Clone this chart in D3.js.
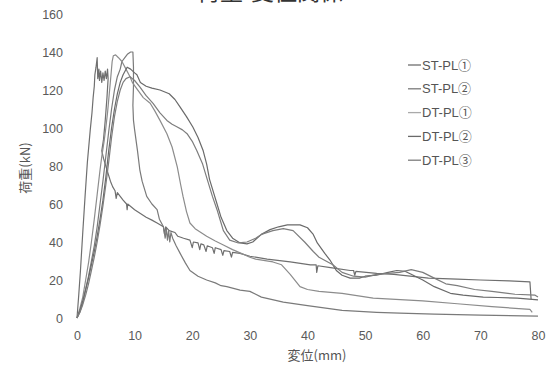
<!DOCTYPE html>
<html>
<head>
<meta charset="utf-8">
<script src="https://cdn.jsdelivr.net/npm/d3@7"></script>
<style>
  body { margin: 0; background: #fff; }
  svg { display: block; font-family: "Liberation Sans", "Noto Sans CJK JP", sans-serif; }
</style>
</head>
<body>
<svg id="chart" width="557" height="365"></svg>
<script>
// series names (legend order)
const seriesNames = ['ST-PL①', 'ST-PL②', 'DT-PL①', 'DT-PL②', 'DT-PL③'];
const xTicks = [0, 10, 20, 30, 40, 50, 60, 70, 80];
const yTicks = [0, 20, 40, 60, 80, 100, 120, 140, 160];

// [displacement mm, load kN]
const stPl1 = [[0,0],[0.3,12],[0.6,25],[1.0,45],[1.4,64],[1.8,82],[2.3,99],[2.6,108],[2.8,116],[3.0,122],[3.1,128],[3.3,132],[3.5,137],[3.6,126],[3.8,131],[3.9,125],[4.1,130],[4.3,124],[4.5,129],[4.7,125],[4.9,130],[5.1,126],[5.3,131],[5.4,126],[5.2,116],[4.9,104],[4.6,94],[4.3,88],[4.6,84],[5.2,78],[5.8,72],[6.2,69],[6.6,67],[6.8,63],[7.0,66],[8.0,62],[8.6,60],[8.7,57],[8.8,60],[10,57],[11,55],[12,53],[13,51.5],[13.9,50],[15,48],[15.2,44],[15.4,48],[16,46],[17,45],[17.5,43],[18.5,42],[19.6,41],[20,37],[20.2,40],[21,39.5],[21.3,36],[21.5,39],[22,38.5],[22.4,35],[22.6,38],[23.5,37],[23.8,34],[24,37],[25,36],[25.3,33],[25.5,35.5],[26.5,35],[26.8,32],[27,34.5],[28.3,34],[30,32.5],[33,31],[37,29.5],[40.5,28],[41.5,28],[41.6,24],[41.8,27.5],[44,26.5],[47.4,25],[48,25],[48.2,22.5],[48.4,24.5],[52,23.5],[55,23],[61,21],[66,20.5],[70,20],[75,19.5],[78.6,19],[78.8,10]];
const stPl2 = [[0,0],[0.5,3],[1,8],[1.5,15],[2,22],[2.5,30],[3,38],[3.5,48],[4,60],[4.5,72],[5,85],[5.5,98],[6,110],[6.5,120],[7,127],[7.5,131],[7.8,135],[8.3,137],[8.8,139],[9.3,140],[9.7,140],[9.8,132],[9.8,122],[9.7,112],[9.8,104],[10,99],[10.5,88],[10.9,78],[11.3,72],[12.1,64],[13,60],[13.9,57],[14.3,52],[15,48],[15.3,42],[15.5,47],[15.7,41],[15.9,46],[16.1,40],[16.3,45],[16.6,42],[17.2,38],[17.9,34],[18.8,29],[19.6,25],[21,22],[22.5,20],[24,18.5],[25,17],[26,16.5],[28.3,14.7],[30,14],[32,11],[35.8,8.4],[40,6.5],[46,4],[52,3],[56,2.6],[62,2],[70,1.5],[80,1]];
const dtPl1 = [[0,0],[0.5,5],[1,11],[1.5,20],[2,29],[2.5,40],[3,52],[3.5,65],[4,78],[4.3,85],[4.7,93],[5,100],[5.3,108],[5.6,118],[5.9,128],[6.1,135],[6.3,138],[6.7,138.5],[7.2,137],[7.8,135],[8.5,131],[9.2,127],[9.6,124],[10.3,121],[11.5,116],[12.7,113],[13.5,109],[14.4,104],[15.6,97],[16.5,90],[17.4,79.5],[18,70],[18.4,64],[19,56],[19.6,50],[20.5,47],[21.5,45],[22.5,43],[24,40.5],[25.4,38.4],[27,36],[28.5,34],[30,32],[31,31],[34,29.5],[35.5,28],[37,23],[38.7,16.5],[40,15],[42,14],[46,13],[51.4,10.5],[60,9],[66,7.5],[72,6],[78.6,4.5],[79,3]];
const dtPl2 = [[0,0],[0.5,4],[1,9],[1.5,15],[2,21],[2.5,28],[3,35],[3.5,43],[4,52],[4.5,62],[5,74],[5.5,88],[6,100],[6.5,110],[7,118],[7.5,124],[8,128],[8.7,132],[9.3,131],[10,129],[10.4,128],[11,124],[12,122],[13,121],[14.4,120],[16,118],[17,115],[17.9,111],[19,106],[20.1,100.5],[21,95],[21.9,88],[22.5,81],[23,73],[23.7,66],[24.3,60],[25,53],[26,46],[27,42],[28.3,39.5],[29.5,39],[30.5,40],[32,44],[33.5,46.5],[35,48],[36.5,49],[38.7,49],[40,47.5],[41,44],[41.7,39.5],[43,34],[43.9,30.5],[45,25],[46,22.5],[47.4,21],[49,21],[50,22],[52,22.6],[54,24],[55.5,25],[57,24.5],[58,23],[60,20],[62,16.5],[64.8,13],[67,12],[70.5,11],[73,10.8],[76.4,10.5],[80,9.5]];
const dtPl3 = [[0,0],[0.5,3],[1,7],[1.5,12],[2,18],[2.5,25],[3,32],[3.5,40],[4,49],[4.5,59],[5,70],[5.5,82],[6,95],[6.5,106],[7,114],[7.5,120],[8,124],[8.5,126],[9.2,127],[10,125],[10.9,121.6],[12,117],[13.2,113],[14.4,108],[15.6,104],[16.5,102],[17.4,100.5],[18.3,99],[19.1,97],[20,93],[20.8,88],[21.8,81],[22.6,73],[23.5,64],[24.3,57],[25,50],[25.4,46],[26.5,41],[28,39.5],[29.5,40],[31,42],[32,44],[34,46],[35.8,47],[37.5,46],[39.5,40],[41,35],[42,32],[44.4,28],[46,24],[48,22],[50,21.5],[52,23],[54,23.5],[56,24],[58,25.5],[60,24],[62,21],[64,18],[66,17],[69,15],[72,14],[76,12.5],[79.5,12],[80,11]];

const allSeries = [stPl1, stPl2, dtPl1, dtPl2, dtPl3];
const colors = ['#6f6f6f', '#7a7a7a', '#8c8c8c', '#6a6a6a', '#7d7d7d'];

const svg = d3.select('#chart');

const x = d3.scaleLinear().domain([0, 80]).range([77, 538]);
const y = d3.scaleLinear().domain([0, 160]).range([318, 14]);

// title, mostly off the top edge
svg.append('text')
  .attr('x', 270).attr('y', 0)
  .attr('text-anchor', 'middle')
  .attr('font-size', 23)
  .attr('fill', '#333')
  .style('font-family', '"Noto Sans CJK JP", sans-serif')
  .text('荷重-変位関係');

// Y axis
const yAxis = svg.append('g')
  .attr('transform', `translate(${x(0) - 10},0)`)
  .call(d3.axisLeft(y).tickValues(yTicks).tickSize(0).tickPadding(4));
yAxis.select('.domain').remove();
yAxis.selectAll('text').attr('fill', '#5a5a5a').attr('font-size', 12.5)
  .style('font-family', '"Liberation Sans", sans-serif');

// X axis
const xAxis = svg.append('g')
  .attr('transform', `translate(0,${y(0) + 9})`)
  .call(d3.axisBottom(x).tickValues(xTicks).tickSize(0).tickPadding(4));
xAxis.select('.domain').remove();
xAxis.selectAll('text').attr('fill', '#5a5a5a').attr('font-size', 12.5)
  .style('font-family', '"Liberation Sans", sans-serif');

// axis titles
svg.append('text')
  .attr('transform', 'translate(30,168) rotate(-90)')
  .attr('text-anchor', 'middle')
  .attr('font-size', 13)
  .attr('fill', '#555')
  .style('font-family', '"Noto Sans CJK JP", sans-serif')
  .text('荷重(kN)');

svg.append('text')
  .attr('x', 317).attr('y', 360)
  .attr('text-anchor', 'middle')
  .attr('font-size', 13)
  .attr('fill', '#555')
  .style('font-family', '"Noto Sans CJK JP", sans-serif')
  .text('変位(mm)');

// curves
const line = d3.line().x(d => x(d[0])).y(d => y(d[1]));

svg.append('g')
  .selectAll('path')
  .data(allSeries)
  .join('path')
  .attr('d', line)
  .attr('fill', 'none')
  .attr('stroke', (d, i) => colors[i])
  .attr('stroke-width', 1.2)
  .attr('stroke-linejoin', 'round');

// legend
const legend = svg.append('g').attr('transform', 'translate(408,65)');
const rows = legend.selectAll('g')
  .data(seriesNames)
  .join('g')
  .attr('transform', (d, i) => `translate(0,${i * 23.8})`);

rows.append('line')
  .attr('x1', 0).attr('x2', 13)
  .attr('stroke', (d, i) => i === 2 ? '#aaa' : colors[i])
  .attr('stroke-width', 1.3);

rows.append('text')
  .attr('x', 14).attr('dy', '0.35em')
  .attr('font-size', 13)
  .attr('fill', '#555')
  .text(d => d);
</script>
</body>
</html>
